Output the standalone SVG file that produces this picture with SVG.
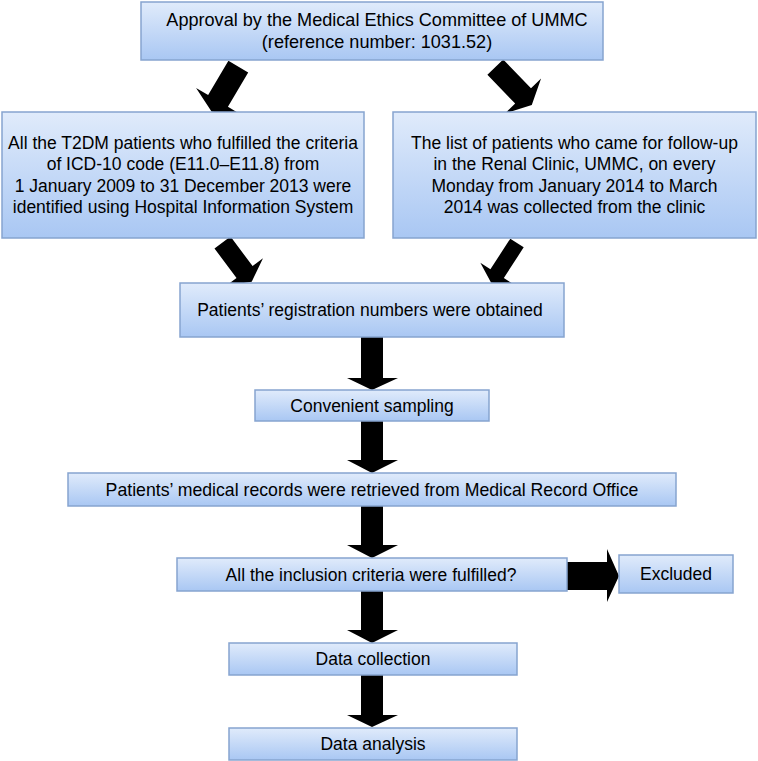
<svg xmlns="http://www.w3.org/2000/svg" width="758" height="761" viewBox="0 0 758 761">
<defs>
<linearGradient id="boxg" x1="0" y1="0" x2="0" y2="1">
<stop offset="0" stop-color="#e0ebfb"/>
<stop offset="1" stop-color="#a9c7f3"/>
</linearGradient>
<style>
.box{fill:url(#boxg);stroke:#86a4cf;stroke-width:1.5}
.t{font-family:"Liberation Sans",Arial,sans-serif;font-size:17.5px;fill:#000;text-anchor:middle}
.big{font-size:18.1px}
.arr{fill:#000}
</style>
</defs>
<rect width="758" height="761" fill="#fff"/>
<g id="connectors">
<polygon class="arr" transform="translate(238.3,66.7) rotate(30.6)" points="-11.5,0 11.5,0 11.5,39.8 25.5,39.8 0,52.3 -25.5,39.8 -11.5,39.8"/>
<polygon class="arr" transform="translate(495.3,67.2) rotate(-44)" points="-11,0 11,0 11,40 25,40 0,52.5 -25,40 -11,40"/>
<polygon class="arr" transform="translate(222.5,242.5) rotate(-36.7)" points="-10,0 10,0 10,36.9 23,36.9 0,48.9 -23,36.9 -10,36.9"/>
<polygon class="arr" transform="translate(517,243) rotate(33)" points="-8,0 8,0 8,36.5 20,36.5 0,47.5 -20,36.5 -8,36.5"/>
<polygon class="arr" points="361,337 383,337 383,378 398,378 372,390 347,378 361,378"/>
<polygon class="arr" points="361,421 383,421 383,460 398,460 372,473 347,460 361,460"/>
<polygon class="arr" points="361,506 383,506 383,545 398,545 372,558 347,545 361,545"/>
<polygon class="arr" points="361,591 383,591 383,630 398,630 372,643 347,630 361,630"/>
<polygon class="arr" points="361,675 383,675 383,715 398,715 372,727 347,715 361,715"/>
<polygon class="arr" points="567,562 607,562 607,549 619,576 607,602 607,590 567,590"/>
</g>
<g id="n1"><rect class="box" x="141" y="2" width="462" height="58"/>
<text class="t big" x="377" y="26">Approval by the Medical Ethics Committee of UMMC</text>
<text class="t big" x="377" y="47.5">(reference number: 1031.52)</text></g>
<g id="n2"><rect class="box" x="2" y="112" width="362" height="126"/>
<text class="t" x="183" y="148.5">All the T2DM patients who fulfilled the criteria</text>
<text class="t" x="183" y="170">of ICD-10 code (E11.0–E11.8) from</text>
<text class="t" x="183" y="191.5">1 January 2009 to 31 December 2013 were</text>
<text class="t" x="183" y="213">identified using Hospital Information System</text></g>
<g id="n3"><rect class="box" x="393" y="112" width="363" height="126"/>
<text class="t" x="574.5" y="148.5">The list of patients who came for follow-up</text>
<text class="t" x="574.5" y="170">in the Renal Clinic, UMMC, on every</text>
<text class="t" x="574.5" y="191.5">Monday from January 2014 to March</text>
<text class="t" x="574.5" y="213">2014 was collected from the clinic</text></g>
<g id="n4"><rect class="box" x="180" y="283" width="384" height="54"/>
<text class="t" x="370" y="316">Patients’ registration numbers were obtained</text></g>
<g id="n5"><rect class="box" x="255" y="390" width="234" height="31"/>
<text class="t" x="372" y="411.5">Convenient sampling</text></g>
<g id="n6"><rect class="box" x="68" y="473" width="608" height="33"/>
<text class="t" x="372" y="495.5" style="font-size:17.7px">Patients’ medical records were retrieved from Medical Record Office</text></g>
<g id="n7"><rect class="box" x="177" y="558" width="390" height="33"/>
<text class="t" x="371" y="580.5">All the inclusion criteria were fulfilled?</text></g>
<g id="n8"><rect class="box" x="619" y="555" width="114" height="38"/>
<text class="t" x="676" y="580">Excluded</text></g>
<g id="n9"><rect class="box" x="229" y="643" width="288" height="32"/>
<text class="t" x="373" y="665">Data collection</text></g>
<g id="n10"><rect class="box" x="229" y="728" width="288" height="32"/>
<text class="t" x="373" y="750">Data analysis</text></g>
</svg>
